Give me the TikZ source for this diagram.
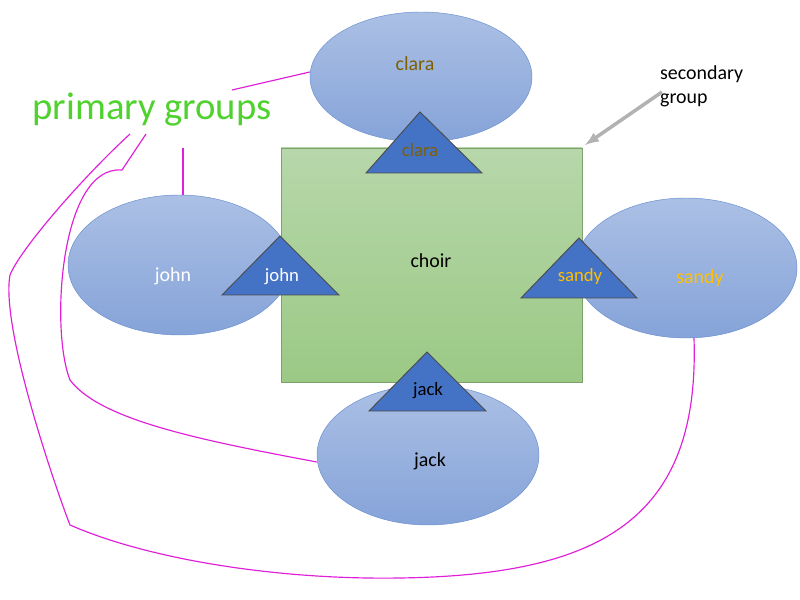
\documentclass[tikz,border=0pt]{standalone}
\usepackage{fontspec}
\setmainfont{Carlito}
\usetikzlibrary{shapes.geometric}
\definecolor{grp}{HTML}{4472C4}
\definecolor{claratx}{HTML}{7F6000}
\definecolor{sandytx}{HTML}{FFC000}
\definecolor{prim}{HTML}{4FD12E}
\definecolor{mag}{HTML}{E020D8}
\definecolor{boxtop}{HTML}{B7D7AA}
\definecolor{boxbot}{HTML}{9BC985}
\tikzset{
  circ/.style={ellipse,draw=grp!80,minimum width=6.66cm,minimum height=4.2cm,
    top color=grp!45,bottom color=grp!65},
  clab/.style={font=\fontsize{17}{20}\selectfont},
  tri/.style={fill=grp,draw=black!70,line width=0.8pt},
  tlab/.style={font=\fontsize{16}{19}\selectfont},
  link/.style={draw=mag,line width=1pt}
}
\begin{document}
\begin{tikzpicture}[x=0.03cm,y=-0.03cm]
		\useasboundingbox (0,0) rectangle (800,600);
		
		\shade[top color=boxtop,bottom color=boxbot] (281,148) rectangle (582,382);
		\draw[boxbot!80!black] (281,148) rectangle (582,382);
		\node[clab] (choir) at (431,261) {choir};
		
		\node[circ,minimum height=3.9cm] (clara) at (421,77) {};
		\node[circ] (john) at (179,265) {};
		\node[circ] (sandy) at (686,268) {};
		\node[circ] (jack) at (428,455) {};
		\node[clab,text=claratx] (lclara) at (415,64) {clara};
		\node[clab,text=white] (ljohn) at (173,276) {john};
		\node[clab,text=sandytx] (lsandy) at (700,278) {sandy};
		\node[clab] (ljack) at (430,461) {jack};
		
		\draw[tri] (420,112) -- (482,173) -- (366,173) -- cycle;
		\draw[tri] (280,236) -- (339,295) -- (222,295) -- cycle;
		\draw[tri] (579,238) -- (637,298) -- (521,298) -- cycle;
		\draw[tri] (427,352) -- (486,411) -- (369,411) -- cycle;
		\node[tlab,text=claratx] (tclara) at (420,150) {clara};
		\node[tlab,text=white] (tjohn) at (282,277) {john};
		\node[tlab,text=sandytx] (tsandy) at (580,277) {sandy};
		\node[tlab,text=black] (tjack) at (428,391) {jack};
		
		\node[text=prim,font=\fontsize{33}{38}\selectfont] (primary) at (152,110) {primary groups};
		\node[align=left,font=\fontsize{17}{20}\selectfont,anchor=north west] (secondary) at (656,62) {secondary\\group};
		\coordinate (arr) at (585,145);
		\draw[-latex,line width=3pt,black!30] (secondary.west |- 0,92) ++(6,0) -- (arr);
		
		\coordinate (p1) at (232,90);
		\coordinate (p2) at (183,148);
		\coordinate (p3) at (146,134);
		\coordinate (p4) at (130,134);
		\draw[link] (clara.west |- 0,72) -- (p1);
		\draw[link] (p2) -- (john.north -| p2);
		\draw[link] (p3) -- (122,170) .. controls (60,165) and (50,330) .. (70,380) .. controls (100,420) and (200,440) .. (jack.west |- 0,462);
		\draw[link] (p4) .. controls (80,180) and (20,250) .. (10,275) .. controls (0,330) and (60,500) .. (70,525) .. controls (150,560) and (280,580) .. (400,578) .. controls (600,575) and (700,520) .. (sandy.south -| 694,0);
	\end{tikzpicture}
\end{document}
